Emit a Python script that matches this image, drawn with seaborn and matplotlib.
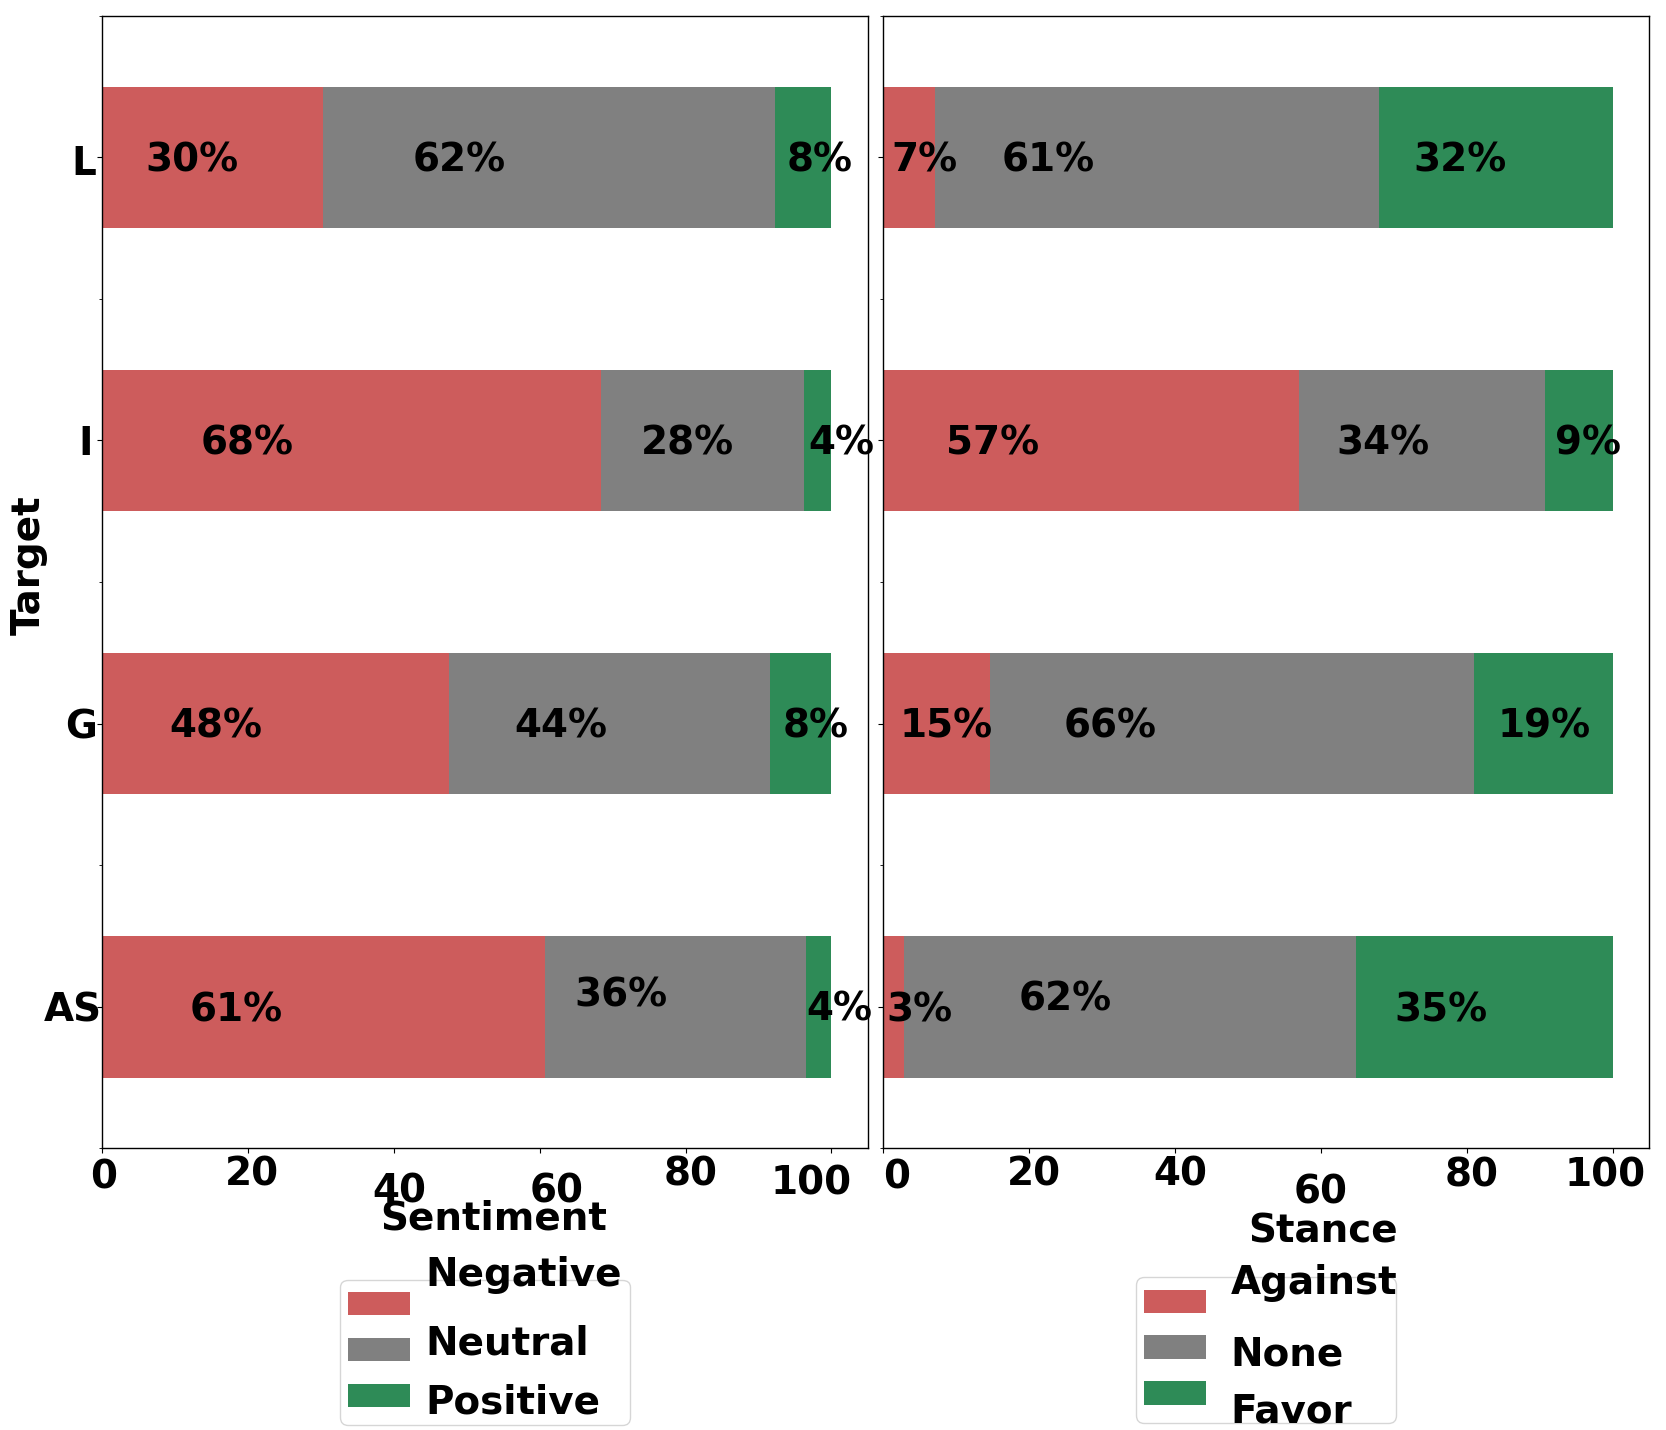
import matplotlib
matplotlib.use("Agg")
import matplotlib.pyplot as plt
import matplotlib.transforms as mtransforms
from matplotlib.patches import Patch
from matplotlib.ticker import FixedLocator
import seaborn as sns
import pandas as pd
import numpy as np

# data (percent of posts per target)
targets = ["L", "I", "G", "AS"]

sentiment_classes = ["Negative", "Neutral", "Positive"]
sentiment_negative = [30.3, 68.4, 47.6, 60.8]
sentiment_neutral = [61.9, 27.8, 44.0, 35.7]
sentiment_positive = [7.8, 3.8, 8.4, 3.5]

stance_classes = ["Against", "None", "Favor"]
stance_against = [7.1, 57.0, 14.6, 2.9]
stance_none = [60.8, 33.7, 66.4, 61.9]
stance_favor = [32.1, 9.3, 19.0, 35.2]

x_ticks = [0, 20, 40, 60, 80, 100]

colors = ["#CD5C5C", "#808080", "#2E8B57"]

# hand-tuned label nudges (data units), to follow the reference layout
sent_dx = [[-2.8, -12.2, 2.3], [-14.3, -2.0, 3.2], [-8.1, -6.7, 2.0], [-11.9, -7.5, 2.8]]
sent_dy = [[0.01, 0.01, 0.01], [0.01, 0.01, 0.01], [0.01, 0.01, 0.01], [0.015, -0.04, 0.01]]
stance_dx = [[2.1, -14.8, -4.9], [-13.5, -5.4, 1.2], [1.3, -16.7, 0.1], [3.5, -8.9, -5.9]]
stance_dy = [[0.01, 0.01, 0.01], [0.01, 0.01, 0.01], [0.01, 0.01, 0.01], [0.015, -0.025, 0.015]]

FS = 28
plt.rcParams.update({
    "font.family": "DejaVu Sans",
    "font.weight": "bold",
    "axes.labelweight": "bold",
    "font.size": FS,
    "xtick.labelsize": FS,
    "ytick.labelsize": FS,
    "axes.edgecolor": "black",
    "axes.linewidth": 1.0,
})

fig, (ax1, ax2) = plt.subplots(1, 2, figsize=(16.66, 14.30), dpi=100)
fig.subplots_adjust(left=0.061, right=0.990, bottom=0.197, top=0.989, wspace=0.0196)


def draw_panel(ax, parts, dxs, dys):
    parts = np.array(parts)
    cum = np.cumsum(parts, axis=0)
    df = pd.DataFrame({"Target": targets})
    # draw cumulative totals, longest first, so segments stack
    for i in reversed(range(len(parts))):
        df["cum"] = cum[i]
        sns.barplot(data=df, x="cum", y="Target", color=colors[i], width=0.5,
                    orient="h", saturation=1, errorbar=None, ax=ax)
    for j in range(len(targets)):
        for i in range(len(parts)):
            v = parts[i][j]
            center = cum[i][j] - v / 2
            ax.text(center + dxs[j][i], j + dys[j][i], f"{v:.0f}%",
                    ha="center", va="center", fontsize=FS, fontweight="bold")
    ax.set_xlim(0, 105)
    ax.set_xticks(x_ticks)
    ax.yaxis.set_minor_locator(FixedLocator([-0.5, 0.5, 1.5, 2.5, 3.5]))


draw_panel(ax1, [sentiment_negative, sentiment_neutral, sentiment_positive], sent_dx, sent_dy)
draw_panel(ax2, [stance_against, stance_none, stance_favor], stance_dx, stance_dy)

ax1.set_xlabel("Sentiment", fontsize=FS, fontweight="bold")
ax2.set_xlabel("Stance", fontsize=FS, fontweight="bold")
ax1.xaxis.set_label_coords(0.511, -0.045)
ax2.xaxis.set_label_coords(0.574, -0.057)
ax1.set_ylabel("Target", fontsize=FS, fontweight="bold")
ax1.yaxis.set_label_coords(-0.07, 0.515)
ax2.set_ylabel("")
ax2.tick_params(axis="y", labelleft=False)


def legend_below(ax, classes, anchor_y, offsets):
    handles = [Patch(facecolor=c, edgecolor="none") for c in colors]
    leg = ax.legend(handles, classes, loc="upper center", bbox_to_anchor=(0.5, anchor_y),
                    prop={"weight": "bold", "size": FS}, handlelength=1.6, handleheight=0.55,
                    labelspacing=0.2, handletextpad=0.4, borderpad=0.2, borderaxespad=0)
    for txt, (dx, dy) in zip(leg.get_texts(), offsets):
        txt.set_transform(mtransforms.offset_copy(txt.get_transform(), fig=fig, x=dx, y=dy, units="dots"))
    return leg


legend_below(ax1, sentiment_classes, -0.116, [(0, 31), (0, 9), (0, -4)])
legend_below(ax2, stance_classes, -0.114, [(9, 21), (9, -5), (9, -16)])


def nudge_ticks(ticks, offsets):
    for tick, (dx, dy) in zip(ticks, offsets):
        tick.label1.set_transform(mtransforms.offset_copy(tick.label1.get_transform(), fig=fig, x=dx, y=dy, units="dots"))


nudge_ticks(ax1.xaxis.get_major_ticks(), [(2, 0), (4, 3), (6, -14), (17, -14), (5, 3), (-20, -6)])
nudge_ticks(ax2.xaxis.get_major_ticks(), [(14, 0), (5, 3), (5, 3), (0, -15), (5, 2), (-8, 2)])
nudge_ticks(ax1.yaxis.get_major_ticks(), [(4, -3), (1, 0), (5, 0), (10, 0)])

fig.savefig("out.png", dpi=100)
